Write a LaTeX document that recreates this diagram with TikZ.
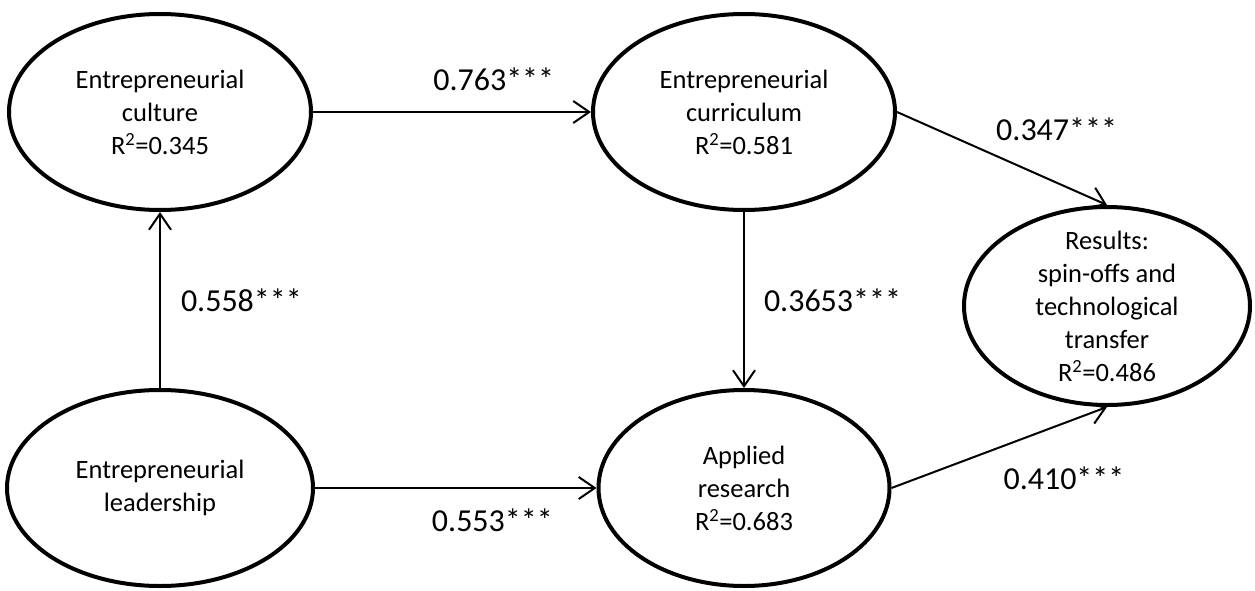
\documentclass[tikz,border=0pt]{standalone}
\usepackage{fontspec}
\setmainfont{Carlito}
\usetikzlibrary{shapes.geometric,positioning,arrows.meta}
\begin{document}
\begin{tikzpicture}[x=1pt,y=1pt,node distance=376pt and 584pt,on grid]
            \tikzstyle{latent} = [ellipse,
            draw=black,
            line width=4pt,
            minimum width=302pt,
            minimum height=196pt,
            inner sep=-20pt,
            align=center,
            font=\fontsize{26.5}{33}\selectfont]
            \tikzstyle{arrow} = [line width=2pt,-{Straight Barb[length=16pt,width=22pt]}]
            \tikzstyle{coef} = [inner sep=0pt,font=\fontsize{32}{38}\selectfont]
            \useasboundingbox (0,0) rectangle (1255,-591);
            \node (culture)[latent] at (160,-112) {Entrepreneurial\\ culture\\ R\textsuperscript{2}=0.345};
            \node (curriculum)[latent, right=of culture] {Entrepreneurial\\ curriculum\\ R\textsuperscript{2}=0.581};
            \node (leader)[latent, below=of culture, minimum width=306pt] {Entrepreneurial\\ leadership};
            \node (applied)[latent, right=of leader, minimum width=291pt] {Applied\\ research\\ R\textsuperscript{2}=0.683};
            \node (results)[latent, minimum width=286pt, minimum height=198pt] at (1107,-306) {Results:\\ spin-offs and\\ technological\\ transfer\\ R\textsuperscript{2}=0.486};

            \draw [arrow] (culture) -- node[coef, pos=0.65, above=20pt] {0.763***} (curriculum);
            \draw [arrow] (leader) -- node[coef, midway, right=20pt] {0.558***} (culture);
            \draw [arrow] (curriculum) -- node[coef, midway, right=19pt] {0.3653***} (applied);
            \draw [arrow] (leader) -- node[coef, pos=0.63, below=20pt] {0.553***} (applied);
            \draw [arrow] (curriculum.east) -- node[coef, pos=0.76, above=41pt] {0.347***} (results.north);
            \draw [arrow] (applied.east) -- node[coef, pos=0.8, below=43pt] {0.410***} (results.south);
        \end{tikzpicture}
\end{document}
